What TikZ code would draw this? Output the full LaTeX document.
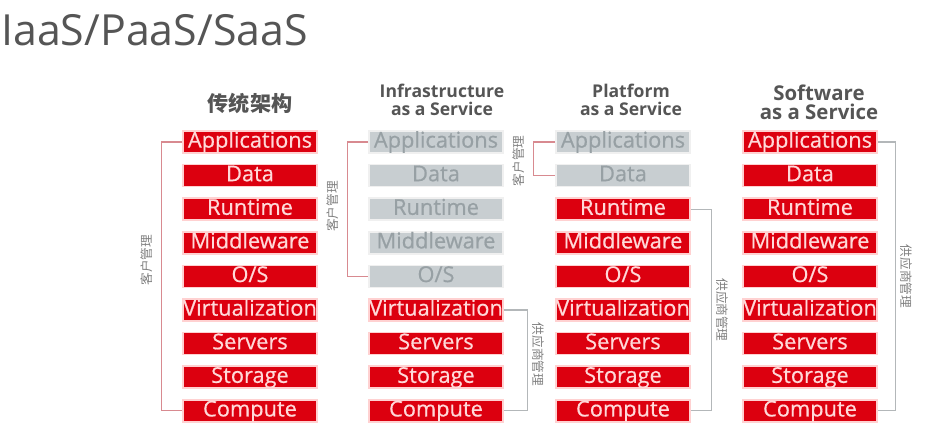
\documentclass[tikz,border=0pt]{standalone}
\usepackage{fontspec}
\setmainfont{Open Sans}
\newfontfamily\kuaizi{Open Sans}[FakeBold=0.6]
\newfontfamily\cjk{Noto Sans CJK SC}
\usetikzlibrary{positioning,calc}
\definecolor{hongse}{HTML}{DC000F}
\definecolor{hongzi}{HTML}{FFD9D9}
\definecolor{huidi}{HTML}{C8CED1}
\definecolor{huizi}{HTML}{97A0A4}
\definecolor{biaoti}{HTML}{555555}
\definecolor{kehuxian}{HTML}{D88A90}
\definecolor{gysxian}{HTML}{B3B7B9}
\tikzset{
  hongkuai/.style={fill=hongse,draw=red!18,line width=1.1pt,minimum width=3.35cm,minimum height=0.55cm,
                   inner sep=0pt,text height=11pt,text depth=3pt,text=hongzi,font=\kuaizi\fontsize{15.5}{15}\selectfont},
  huikuai/.style={hongkuai,fill=huidi,draw=gray!12,text=huizi},
  lietou/.style={font=\bfseries\fontsize{12.5}{13}\selectfont,text=biaoti,align=center,inner sep=0pt},
  kehu/.style={draw=kehuxian,line width=0.9pt},
  gys/.style={draw=gysxian,line width=0.9pt},
  kehuzi/.style={font=\cjk\fontsize{9}{9}\selectfont,text=gray,rotate=90,anchor=south,inner sep=6pt},
  gyszi/.style={font=\cjk\fontsize{9}{9}\selectfont,text=gray,rotate=-90,anchor=south,inner sep=2.5pt},
}
\begin{document}
\begin{tikzpicture}[x=0.025cm,y=-0.025cm]
  \useasboundingbox (0,0) rectangle (943,424);
  \node[font=\fontsize{30.5}{30}\selectfont,text=biaoti,anchor=base west,inner sep=0pt] (biaoti) at (1,45) {IaaS/PaaS/SaaS};
  \node[lietou,font=\cjk\bfseries\fontsize{15}{15}\selectfont] (h1) at (250,103) {传统架构};
  \node[lietou] (h2) at (442,100) {Infrastructure\\as a Service};
  \node[lietou] (h3) at (631,100) {Platform\\as a Service};
  \node[lietou,font=\bfseries\fontsize{14.5}{13.5}\selectfont] (h4) at (819,102) {Software\\as a Service};
  \foreach \lbl [count=\i] in {Applications,Data,Runtime,Middleware,O/S,Virtualization,Servers,Storage,Compute}
    \node[hongkuai] (t\i) at (250,{142+(\i-1)*33.6}) {\lbl};
  \foreach \lbl [count=\i] in {Applications,Data,Runtime,Middleware,O/S}
    \node[huikuai] (ia\i) at (436,{142+(\i-1)*33.6}) {\lbl};
  \foreach \lbl [count=\i from 6] in {Virtualization,Servers,Storage,Compute}
    \node[hongkuai] (ia\i) at (436,{142+(\i-1)*33.6}) {\lbl};
  \foreach \lbl [count=\i] in {Applications,Data}
    \node[huikuai] (pa\i) at (623,{142+(\i-1)*33.6}) {\lbl};
  \foreach \lbl [count=\i from 3] in {Runtime,Middleware,O/S,Virtualization,Servers,Storage,Compute}
    \node[hongkuai] (pa\i) at (623,{142+(\i-1)*33.6}) {\lbl};
  \foreach \lbl [count=\i] in {Applications,Data,Runtime,Middleware,O/S,Virtualization,Servers,Storage,Compute}
    \node[hongkuai] (sa\i) at (810,{142+(\i-1)*33.6}) {\lbl};
  \draw[kehu] (t1.west) -- ++(-21,0) |- node[kehuzi,pos=0.22] {客户管理} (t9.west);
  \draw[kehu] (ia1.west) -- ++(-21,0) |- node[kehuzi,pos=0.24] {客户管理} (ia5.west);
  \draw[gys] (ia6.east) -- ++(24,0) |- node[gyszi,pos=0.22] {供应商管理} (ia9.east);
  \draw[kehu] (pa1.west) -- ++(-22,0) |- node[kehuzi,pos=0.28] {客户管理} (pa2.west);
  \draw[gys] (pa3.east) -- ++(21,0) |- node[gyszi,pos=0.25] {供应商管理} (pa9.east);
  \draw[gys] (sa1.east) -- ++(18,0) |- node[gyszi,pos=0.25] {供应商管理} (sa9.east);
\end{tikzpicture}
\end{document}
